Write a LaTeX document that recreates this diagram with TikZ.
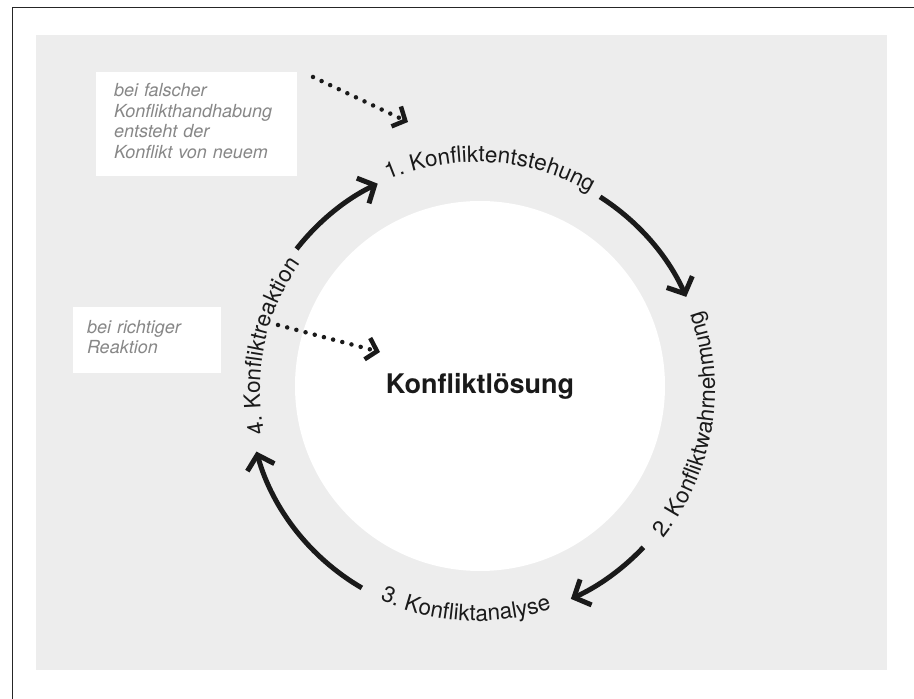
\documentclass[tikz,border=0pt]{standalone}
\usepackage{fontspec}
\setmainfont{TeX Gyre Heros}
\usepackage{xcolor}
\usepackage{tikz}
\usetikzlibrary{arrows.meta,positioning,decorations.text}

\definecolor{panelgrey}{RGB}{237,237,237}
\definecolor{notegrey}{RGB}{135,135,135}
\definecolor{inkblack}{RGB}{26,26,26}

\newcommand{\phasefont}{\fontsize{22.5}{26}\selectfont}
\newcommand{\notefont}{\fontsize{18}{20.7}\selectfont\itshape}

\begin{document}
\begin{tikzpicture}[x=1pt,y=1pt]
  \tikzstyle{cyclearrow}=[draw=inkblack,line width=5pt,-{Straight Barb[length=13pt,width=28pt]}]
  \tikzstyle{notearrow}=[draw=inkblack,line width=4.5pt,line cap=round,dash pattern=on 0pt off 9.5pt,-{Straight Barb[length=10pt,width=22pt]}]
  \tikzstyle{notebox}=[fill=white,text=notegrey,align=left,inner sep=0pt,font=\notefont]
  \tikzstyle{phaselabel}=[decorate,decoration={text along path,text align=center,text color=inkblack}]

  \edef\ringradius{229}

  \useasboundingbox (0,0) rectangle (914,699);
  \draw[line width=1pt,black!85] (12,0) -- (12,691) -- (914,691);
  \fill[panelgrey] (36,29) rectangle (887,664);

  \node[circle,fill=white,minimum size=370pt,inner sep=0pt,text=inkblack,
        font=\bfseries\fontsize{27}{30}\selectfont] (loesung) at (480,313) {Konfliktlösung};

  % notes
  \node[notebox,minimum width=201pt,minimum height=104pt,text width=165pt] (falsch) at (196.5,575)
    {bei falscher\\Konflikthandhabung\\entsteht der\\Konflikt von neuem\strut};
  \node[notebox,minimum width=148pt,minimum height=66pt,text width=120pt] (richtig) at (147,359)
    {bei richtiger\\Reaktion\strut};

  \coordinate (falschstart) at (313,622);
  \coordinate (falschend) at (408,577);
  \coordinate (richtigstart) at (278,374);
  \coordinate (richtigend) at (380,347);
  \draw[notearrow] (falschstart) -- (falschend);
  \draw[notearrow] (richtigstart) -- (richtigend);

  % cycle
  \coordinate (ring) at (477,309);
  \draw[cyclearrow] ([shift={(57.5:\ringradius)}]ring) arc[start angle=57.5,end angle=24,radius=\ringradius];
  \draw[cyclearrow] ([shift={(-43.4:\ringradius)}]ring) arc[start angle=-43.4,end angle=-65.8,radius=\ringradius];
  \draw[cyclearrow] ([shift={(-120.2:\ringradius)}]ring) arc[start angle=-120.2,end angle=-164.4,radius=\ringradius];
  \draw[cyclearrow] ([shift={(142:\ringradius)}]ring) arc[start angle=142,end angle=115.7,radius=\ringradius];

  \path[phaselabel,decoration={text={|\phasefont|1. Konfliktentstehung}}]
    ([shift={(131.5:228)}]ring) arc[start angle=131.5,end angle=41.5,radius=228];
  \path[phaselabel,decoration={text={|\phasefont|2. Konfliktwahrnehmung}}]
    ([shift={(-54.5:238)}]ring) arc[start angle=-54.5,end angle=35.5,radius=238];
  \path[phaselabel,decoration={text={|\phasefont|3. Konfliktanalyse}}]
    ([shift={(-138:231)}]ring) arc[start angle=-138,end angle=-48,radius=231];
  \path[phaselabel,decoration={text={|\phasefont|4. Konfliktreaktion}}]
    ([shift={(213:217)}]ring) arc[start angle=213,end angle=123,radius=217];
\end{tikzpicture}
\end{document}
